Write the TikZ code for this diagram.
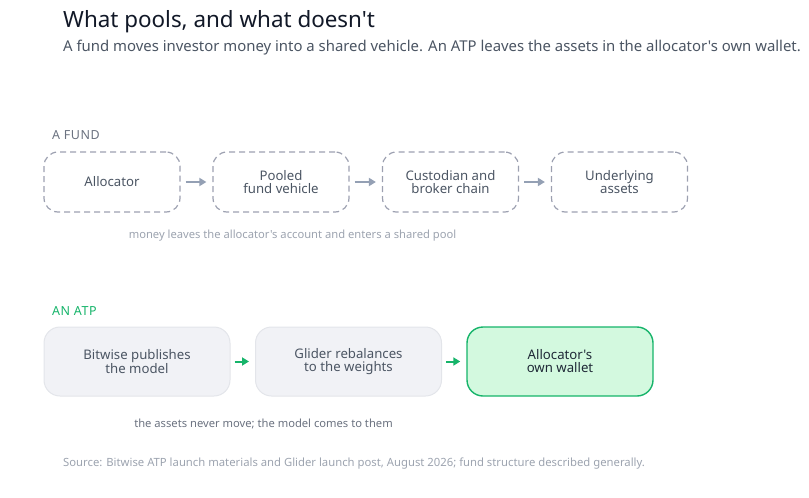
\documentclass[tikz,border=0pt]{standalone}
\usepackage{fontspec}
\setmainfont{Noto Sans}[Ligatures=TeXOff]
\newfontfamily\labfont{Noto Sans}[Ligatures=TeXOff,LetterSpace=4]
\usetikzlibrary{arrows.meta}
\definecolor{titlec}{HTML}{111827}
\definecolor{subc}{HTML}{4B5563}
\definecolor{labc}{HTML}{6B7280}
\definecolor{capc}{HTML}{9CA3AF}
\definecolor{dashc}{HTML}{9CA0B0}
\definecolor{arrc}{HTML}{94A0B4}
\definecolor{boxtext}{HTML}{4B5563}
\definecolor{greyfill}{HTML}{F1F2F6}
\definecolor{greyline}{HTML}{E3E5EA}
\definecolor{greenc}{HTML}{16B46A}
\definecolor{greenfill}{HTML}{D3F9DF}
\definecolor{darktext}{HTML}{1F2937}
\tikzset{
  fundbox/.style={draw=dashc, line width=1.2pt, dash pattern=on 6pt off 4pt, rounded corners=14pt,
    minimum width=136pt, minimum height=60pt, align=center, text=boxtext,
    font=\fontsize{13.2}{13}\selectfont},
  atpbox/.style={draw=greyline, fill=greyfill, line width=1pt, rounded corners=16pt,
    minimum width=186pt, minimum height=69pt, align=center, text=boxtext,
    font=\fontsize{13.2}{13}\selectfont},
  walletbox/.style={atpbox, draw=greenc, fill=greenfill, line width=1.4pt, text=darktext},
  grayarrow/.style={draw=arrc, line width=2pt, -{Triangle[length=7pt,width=8pt]}, shorten <=5pt, shorten >=6pt},
  greenarrow/.style={draw=greenc, line width=2pt, -{Triangle[length=7pt,width=8pt]}, shorten <=4pt, shorten >=6pt},
  seclabel/.style={anchor=base west, font=\labfont\fontsize{12.5}{14}\selectfont},
  caption/.style={font=\fontsize{11.2}{13}\selectfont}
}
\begin{document}
\begin{tikzpicture}[x=1pt,y=-1pt]
\useasboundingbox (0,0) rectangle (809,498);
\node[anchor=base west, inner sep=0, text=titlec, font=\fontsize{22.4}{26}\selectfont] (title) at (63,27) {What pools, and what doesn't};
\node[anchor=base west, inner sep=0, text=subc, font=\fontsize{14.9}{17}\selectfont] (sub) at (63,51) {A fund moves investor money into a shared vehicle. An ATP leaves the assets in the allocator's own wallet.};
\node[seclabel, inner sep=0, text=labc] (fundlab) at (52,139) {A FUND};
\node[fundbox] (f1) at (112,182) {Allocator};
\node[fundbox] (f2) at (281,182) {Pooled\\fund vehicle};
\node[fundbox] (f3) at (450.5,182) {Custodian and\\broker chain};
\node[fundbox] (f4) at (619.5,182) {Underlying\\assets};
\draw[grayarrow] (f1) -- (f2);
\draw[grayarrow] (f2) -- (f3);
\draw[grayarrow] (f3) -- (f4);
\node[caption, text=capc] (cap1) at (292.5,235.5) {money leaves the allocator's account and enters a shared pool};
\node[seclabel, inner sep=0, text=greenc] (atplab) at (52,315.5) {AN ATP};
\node[atpbox] (a1) at (137,361.5) {Bitwise publishes\\the model};
\node[atpbox] (a2) at (348.5,361.5) {Glider rebalances\\to the weights};
\node[walletbox] (a3) at (560,361.5) {Allocator's\\own wallet};
\draw[greenarrow] (a1) -- (a2);
\draw[greenarrow] (a2) -- (a3);
\node[caption, text=labc] (cap2) at (263.5,423.5) {the assets never move; the model comes to them};
\node[anchor=base west, inner sep=0, text=capc, font=\fontsize{11.3}{13}\selectfont] (src) at (63,466) {Source: Bitwise ATP launch materials and Glider launch post, August 2026; fund structure described generally.};
\end{tikzpicture}
\end{document}
